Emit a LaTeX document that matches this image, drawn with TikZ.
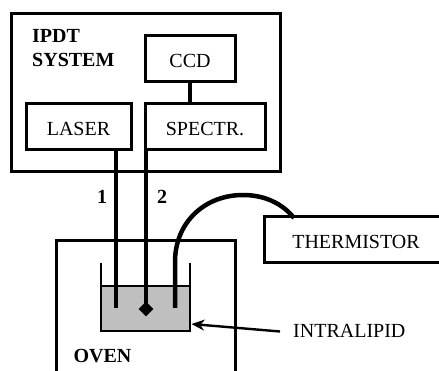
\documentclass[tikz,border=0pt]{standalone}
\usepackage{fontspec}
\setmainfont{Liberation Serif}
\usetikzlibrary{arrows.meta}
\usetikzlibrary{shapes.geometric}
\tikzset{
    unitbox/.style={draw, line width=3pt, minimum height=46pt, inner sep=0pt, text height=17pt, text depth=0pt, font=\fontsize{20}{24}\selectfont},
    boldlabel/.style={inner sep=0pt, font=\fontsize{20}{24}\selectfont\bfseries},
    plainlabel/.style={inner sep=0pt, font=\fontsize{20}{24}\selectfont},
    fibre/.style={line width=4.5pt}
}
\begin{document}
\begin{tikzpicture}[x=1pt, y=-1pt]
    \useasboundingbox (0,0) rectangle (439,371);

    % Main system frame
    \draw[line width=3pt] (11,14) rectangle (280,172);
    \node[boldlabel, align=left, anchor=north west] (ipdt) at (32,29.5) {IPDT\\SYSTEM};

    % Instruments
    \node[unitbox, minimum width=90pt] (ccd) at (190,59) {CCD};
    \node[unitbox, minimum width=105pt] (laser) at (78.5,127) {LASER};
    \node[unitbox, minimum width=120pt] (spectr) at (205,127) {SPECTR.};
    \node[unitbox, minimum width=184pt] (thermistor) at (356,240) {THERMISTOR};
    \draw[line width=4pt] (ccd.south) -- (ccd.south |- spectr.north);

    % Oven
    \draw[line width=3pt] (56,371) -- (56,241) -- (235,241) -- (235,371);
    \node[boldlabel] (oven) at (102.5,356) {OVEN};

    % Cuvette with the liquid
    \fill[black!25] (101,286) rectangle (190,331);
    \draw[line width=2pt] (101,286) -- (190,286);
    \draw[line width=2.8pt] (101,263) -- (101,331) -- (190,331) -- (190,263);

    % Fibres
    \coordinate (end1) at (116,308);
    \coordinate (end3) at (175,308);
    \coordinate (cableend) at (294,218);
    \node[diamond, fill=black, inner sep=0pt, minimum size=15pt] (probe) at (146,309) {};
    \draw[fibre] (laser.south -| end1) -- (end1);
    \draw[fibre] (146,150) -- (probe.center);
    \draw[fibre] (end3) -- (175,262) .. controls (175,222) and (205,195) .. (243,195) .. controls (264,195) and (282,203) .. (cableend);
    \node[boldlabel] (one) at (102,197) {1};
    \node[boldlabel] (two) at (162,197) {2};

    % Liquid label
    \node[plainlabel, anchor=west] (intralipid) at (293,331) {INTRALIPID};
    \coordinate (tail) at (280,331.5);
    \draw[-{Stealth[length=13pt, width=11pt]}, line width=2.4pt] (tail) -- (191.5,324);
\end{tikzpicture}
\end{document}
